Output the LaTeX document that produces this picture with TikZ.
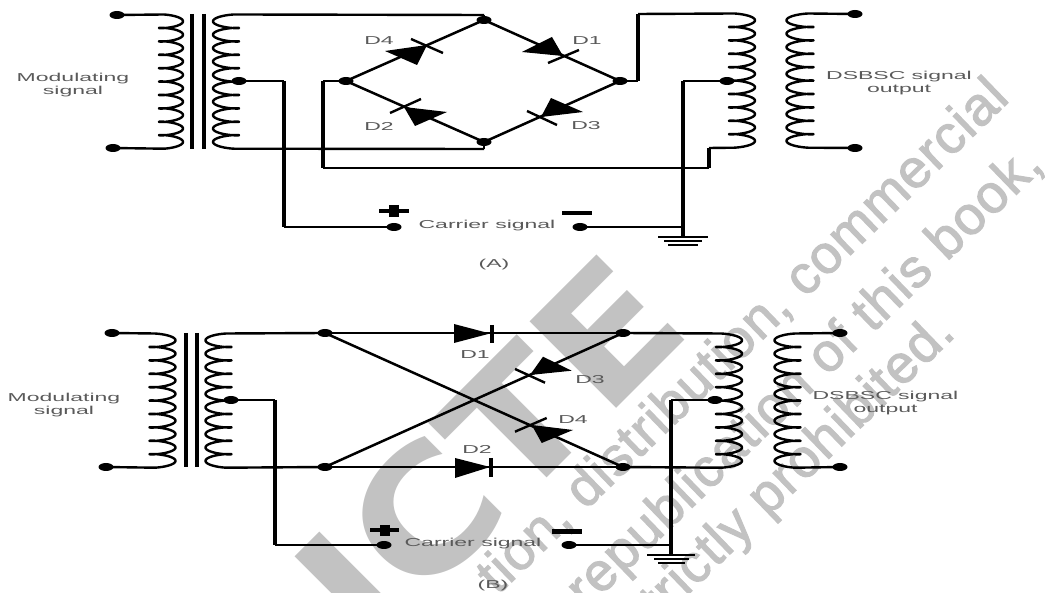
\documentclass[tikz,border=0pt]{standalone}
\usepackage{fontspec}
\setmainfont{Liberation Sans}
\newfontfamily\wmbig{DejaVu Sans Bold}
\newfontfamily\wmsm[FakeBold=2,LetterSpace=2]{Liberation Sans}
\usetikzlibrary{shapes.geometric}
\definecolor{wm}{HTML}{C2C2C2}
\definecolor{lab}{HTML}{5A5A5A}
\tikzset{
  dotn/.style={ellipse,fill=black,inner sep=0pt,minimum width=15pt,minimum height=8pt},
  hw/.style={line width=1.9pt,line cap=square},
  vw/.style={line width=3.5pt,line cap=square},
  dg/.style={line width=2.5pt},
  coilw/.style={line width=2.4pt,line join=round},
  gnd/.style={line width=1.8pt},
  corebar/.style={line width=3.6pt},
  sign/.style={line width=4.5pt},
  signv/.style={line width=10pt},
  labl/.style={font=\fontsize{11.5}{12.5}\selectfont,text=lab,xscale=2,align=center,inner sep=0pt},
  wmsmall/.style={font=\wmsm\fontsize{54}{54}\selectfont,text=wm,rotate=44,inner sep=0pt,anchor=base east},
}
% #1 start point, #2 end point, #3 centre x, #4 signed half width, #5 y of first cusp, #6 pitch
\newcommand{\coilpath}[6]{%
  \draw[coilw] (#1) -- plot[domain=-127:3367,samples=400,variable=\t]
    ({#3+(#4)*cos(\t)},{#5+#6*((\t-180)/360)+2.6*sin(\t)}) -- (#2);}
% apex, base corner, base corner, bar end, bar end
\newcommand{\diodeshape}[5]{%
  \fill (#1) -- (#2) -- (#3) -- cycle;
  \draw[line width=2.4pt] (#4) -- (#5);}
\begin{document}
\begin{tikzpicture}[x=1pt,y=-1pt]
\useasboundingbox (0,0) rectangle (1045,593);
% ---- watermark
\begin{scope}
\clip (0,0) rectangle (1045,593);
\node[rotate=45,xscale=1.11,anchor=base west,inner sep=0pt,text=wm,font=\wmbig\fontsize{168}{168}\selectfont] (wmlogo) at (369,656) {ICTE};
\node[wmsmall] (wm1) at (1011,100) {tion, distribution, commercial};
\node[wmsmall] (wm2) at (1045,167) {republication of this book,};
\node[wmsmall] (wm3) at (957,335) {strictly prohibited.};
\end{scope}
% ---- panel A
\node[dotn] (a1) at (117,15) {};
\node[dotn] (a2) at (113,148) {};
\node[dotn] (aT) at (239,81) {};
\node[dotn] (aN) at (484,20) {};
\node[dotn] (aW) at (346,81) {};
\node[dotn] (aE) at (620,81) {};
\node[dotn] (aS) at (484,142) {};
\node[dotn] (aP) at (394,227) {};
\node[dotn] (aM) at (580,227) {};
\node[dotn] (aR) at (727,81) {};
\node[dotn] (aO1) at (855,14) {};
\node[dotn] (aO2) at (855,148) {};
\coordinate (aCt) at (484,15);
\coordinate (aCb) at (484,149);
\coilpath{a1.center}{a2.center}{171}{12}{28}{13.4}
\draw[corebar] (192,14) -- (192,149);
\draw[corebar] (204,14) -- (204,149);
\coilpath{aCt}{aCb}{226}{-13}{28}{13.4}
\draw[hw] (aN.center) -- (aCt);
\draw[hw] (aS.center) -- (aCb);
% tap to + terminal
\coordinate (a3) at (284,81);
\coordinate (a4) at (284,227);
\draw[hw] (aT.center) -- (a3);
\draw[vw] (a3) -- (a4);
\draw[hw] (a4) -- (aP.center);
% bridge
\draw[dg] (aN.center) -- (aW.center) -- (aS.center) -- (aE.center) -- (aN.center);
\diodeshape{427,45}{385,51}{417,65}{411,39}{443,53}
\diodeshape{404,107}{447,112}{415,126}{390,113}{421,99}
\diodeshape{563,56}{522,52}{552,37}{548,63}{579,50}
\diodeshape{541,117}{551,98}{583,112}{527,111}{557,125}
% right winding
\coordinate (a5) at (638,81);
\coordinate (a6) at (638,14);
\coordinate (a7) at (709,148);
\coordinate (a8) at (709,168);
\coordinate (a9) at (323,168);
\coordinate (a10) at (323,81);
\draw[hw] (aE.center) -- (a5);
\draw[vw] (a5) -- (a6);
\draw[hw] (aW.center) -- (a10);
\draw[vw] (a10) -- (a9);
\draw[hw] (a9) -- (a8);
\draw[vw] (a8) -- (a7);
\coilpath{a6}{a7}{742}{13}{27}{13.4}
% centre tap and ground
\coordinate (aG) at (683,237);
\coordinate (a11) at (683,81);
\coordinate (a12) at (683,227);
\draw[hw] (aR.center) -- (a11);
\draw[vw] (a11) -- (aG);
\draw[hw] (aM.center) -- (a12);
\draw[gnd] ([xshift=-25pt]aG) -- ([xshift=25pt]aG);
\draw[gnd] ([xshift=-19pt,yshift=-4pt]aG) -- ([xshift=19pt,yshift=-4pt]aG);
\draw[gnd] ([xshift=-15pt,yshift=-8pt]aG) -- ([xshift=15pt,yshift=-8pt]aG);
% output winding
\coilpath{aO1.center}{aO2.center}{800}{-13.5}{27}{13.4}
% signs
\draw[sign] (379,211) -- (409,211);
\draw[signv] (394,205) -- (394,217);
\draw[sign] (562,213) -- (592,213);
% labels
\node[labl] (aL1) at (73,85) {Modulating\\signal};
\node[labl] (aL2) at (899,83) {DSBSC signal\\output};
\node[labl] (aL3) at (487,226) {Carrier signal};
\node[labl] (aL4) at (494,265) {(A)};
\node[labl] (aD4) at (379,41) {D4};
\node[labl] (aD2) at (379,126) {D2};
\node[labl] (aD1) at (587,41) {D1};
\node[labl] (aD3) at (586,126) {D3};
% ---- panel B
\node[dotn] (b1) at (112,333) {};
\node[dotn] (b2) at (106,467) {};
\node[dotn] (bT) at (231,400) {};
\node[dotn] (bA) at (325,333) {};
\node[dotn] (bB) at (325,467) {};
\node[dotn] (bC) at (623,333) {};
\node[dotn] (bD) at (623,467) {};
\node[dotn] (bP) at (384,545) {};
\node[dotn] (bM) at (569,545) {};
\node[dotn] (bR) at (715,400) {};
\node[dotn] (bO1) at (840,333) {};
\node[dotn] (bO2) at (840,467) {};
\coilpath{b1.center}{b2.center}{162.5}{13}{347}{13.4}
\draw[corebar] (186,333) -- (186,467);
\draw[corebar] (197,333) -- (197,467);
\coilpath{bA.center}{bB.center}{218.5}{-13}{347}{13.4}
\coordinate (b3) at (275,400);
\coordinate (b4) at (275,545);
\draw[hw] (bT.center) -- (b3);
\draw[vw] (b3) -- (b4);
\draw[hw] (b4) -- (bP.center);
\draw[hw] (bA.center) -- (bC.center);
\draw[hw] (bB.center) -- (bD.center);
\draw[dg] (bA.center) -- (bD.center);
\draw[dg] (bB.center) -- (bC.center);
\fill (490,333.5) -- (454,324) -- (454,343) -- cycle;
\draw[line width=4pt] (492,325) -- (492,343);
\fill (490,467) -- (455,458) -- (455,478) -- cycle;
\draw[line width=4pt] (491,458) -- (491,477);
\diodeshape{531.7,425}{573,430}{541.7,443}{515,431.7}{546.7,418}
\diodeshape{530,375}{543,356.7}{571.7,370.7}{515,369}{545,382.7}
\coilpath{bC.center}{bD.center}{729}{13}{347}{13.4}
\coordinate (bG) at (671,555);
\coordinate (b11) at (671,400);
\coordinate (b12) at (671,545);
\draw[hw] (bR.center) -- (b11);
\draw[vw] (b11) -- (bG);
\draw[hw] (bM.center) -- (b12);
\draw[gnd] ([xshift=-24pt]bG) -- ([xshift=24pt]bG);
\draw[gnd] ([xshift=-17pt,yshift=-4pt]bG) -- ([xshift=18pt,yshift=-4pt]bG);
\draw[gnd] ([xshift=-13pt,yshift=-8pt]bG) -- ([xshift=14pt,yshift=-8pt]bG);
\coilpath{bO1.center}{bO2.center}{787.5}{-13}{347}{13.4}
\draw[sign] (370,530) -- (399,530);
\draw[signv] (384.5,525) -- (384.5,536);
\draw[sign] (552,531.5) -- (582,531.5);
\node[labl] (bL1) at (64,405) {Modulating\\signal};
\node[labl] (bL2) at (885.5,403) {DSBSC signal\\output};
\node[labl] (bL3) at (473,543.5) {Carrier signal};
\node[labl] (bL4) at (493,586) {(B)};
\node[labl] (bD1) at (475,355) {D1};
\node[labl] (bD2) at (477,449) {D2};
\node[labl] (bD3) at (590,380) {D3};
\node[labl] (bD4) at (573,420) {D4};
\end{tikzpicture}
\end{document}
